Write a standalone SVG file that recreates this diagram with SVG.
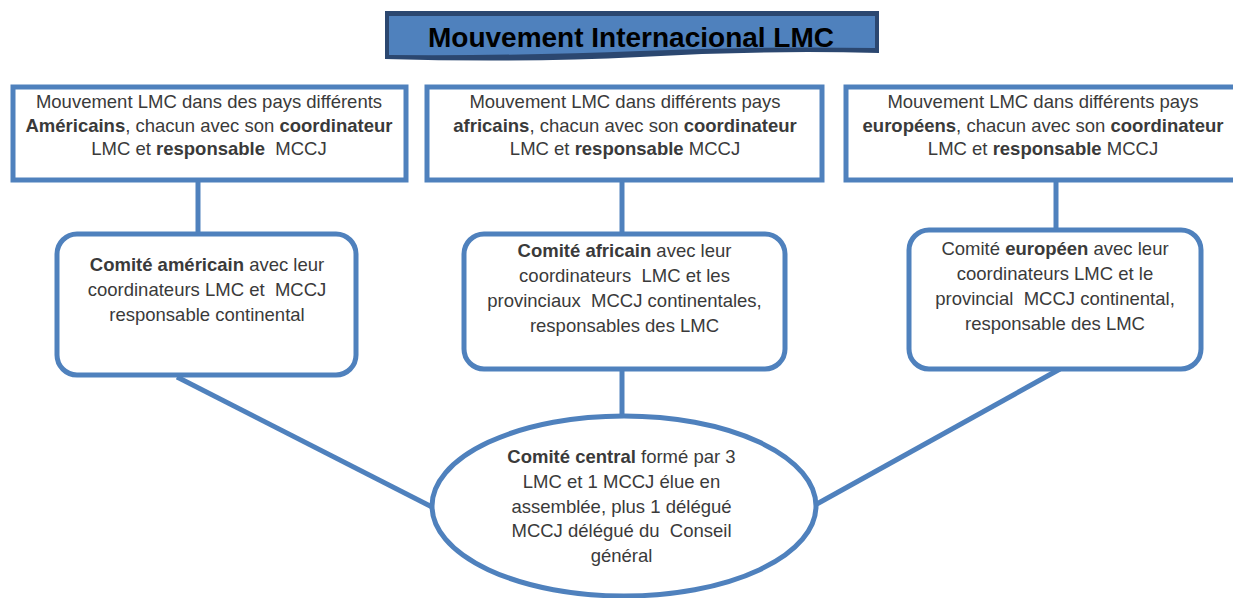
<svg xmlns="http://www.w3.org/2000/svg" width="1233" height="598" viewBox="0 0 1233 598">
<style>
.t{font-family:"Liberation Sans",Arial,sans-serif;font-size:18.5px;fill:#3a3a3a;text-anchor:middle}
.b{font-weight:bold}
.box{fill:#fff;stroke:#4F81BD;stroke-width:5}
.ln{stroke:#4F81BD;stroke-width:5;fill:none}
</style>
<rect width="1233" height="598" fill="#fff"/>
<g id="connectors">
<line class="ln" x1="198" y1="180" x2="198" y2="234"/>
<line class="ln" x1="622" y1="180" x2="622" y2="234"/>
<line class="ln" x1="1056" y1="180" x2="1056" y2="230"/>
<line class="ln" x1="177" y1="377" x2="434" y2="508"/>
<line class="ln" x1="622" y1="369" x2="622" y2="418"/>
<line class="ln" x1="1060" y1="369" x2="815" y2="505"/>
</g>
<g id="title">
<path d="M385 11 H879 V53 Q760 50 640 57 Q520 63 385 59 Z" fill="#2B4770"/>
<path d="M389 16 H875 V48 Q760 46 640 51 Q520 56 389 55 Z" fill="#4F81BD"/>
<text x="631" y="47" style="font-family:'Liberation Sans',Arial,sans-serif;font-size:28px;font-weight:bold;fill:#000;text-anchor:middle">Mouvement Internacional LMC</text>
</g>
<g id="box-americains">
<rect class="box" x="13" y="87" width="393" height="93"/>
<text class="t" x="209" y="108">Mouvement LMC dans des pays différents</text>
<text class="t" x="209" y="132"><tspan class="b">Américains</tspan>, chacun avec son <tspan class="b">coordinateur</tspan></text>
<text class="t" x="209" y="155" xml:space="preserve">LMC et <tspan class="b">responsable</tspan>  MCCJ</text>
</g>
<g id="box-africains">
<rect class="box" x="427" y="87" width="395" height="93"/>
<text class="t" x="625" y="108">Mouvement LMC dans différents pays</text>
<text class="t" x="625" y="132"><tspan class="b">africains</tspan>, chacun avec son <tspan class="b">coordinateur</tspan></text>
<text class="t" x="625" y="155">LMC et <tspan class="b">responsable</tspan> MCCJ</text>
</g>
<g id="box-europeens">
<rect class="box" x="846" y="87" width="400" height="93"/>
<text class="t" x="1043" y="108">Mouvement LMC dans différents pays</text>
<text class="t" x="1043" y="132"><tspan class="b">européens</tspan>, chacun avec son <tspan class="b">coordinateur</tspan></text>
<text class="t" x="1043" y="155">LMC et <tspan class="b">responsable</tspan> MCCJ</text>
</g>
<g id="comite-americain">
<rect class="box" x="57" y="234" width="299" height="141" rx="20"/>
<text class="t" x="207" y="271"><tspan class="b">Comité américain</tspan> avec leur</text>
<text class="t" x="207" y="296" xml:space="preserve">coordinateurs LMC et  MCCJ</text>
<text class="t" x="207" y="321">responsable continental</text>
</g>
<g id="comite-africain">
<rect class="box" x="464" y="234" width="321" height="135" rx="20"/>
<text class="t" x="624.5" y="257"><tspan class="b">Comité africain</tspan> avec leur</text>
<text class="t" x="624.5" y="282" xml:space="preserve">coordinateurs  LMC et les</text>
<text class="t" x="624.5" y="307" xml:space="preserve">provinciaux  MCCJ continentales,</text>
<text class="t" x="624.5" y="332">responsables des LMC</text>
</g>
<g id="comite-europeen">
<rect class="box" x="909" y="230" width="292" height="139" rx="20"/>
<text class="t" x="1055" y="255">Comité <tspan class="b">européen</tspan> avec leur</text>
<text class="t" x="1055" y="280">coordinateurs LMC et le</text>
<text class="t" x="1055" y="305" xml:space="preserve">provincial  MCCJ continental,</text>
<text class="t" x="1055" y="330">responsable des LMC</text>
</g>
<g id="comite-central">
<ellipse class="box" cx="624" cy="506" rx="192" ry="90"/>
<text class="t" x="621.5" y="463"><tspan class="b">Comité central</tspan> formé par 3</text>
<text class="t" x="621.5" y="488">LMC et 1 MCCJ élue en</text>
<text class="t" x="621.5" y="513">assemblée, plus 1 délégué</text>
<text class="t" x="621.5" y="537" xml:space="preserve">MCCJ délégué du  Conseil</text>
<text class="t" x="621.5" y="562">général</text>
</g>
</svg>
